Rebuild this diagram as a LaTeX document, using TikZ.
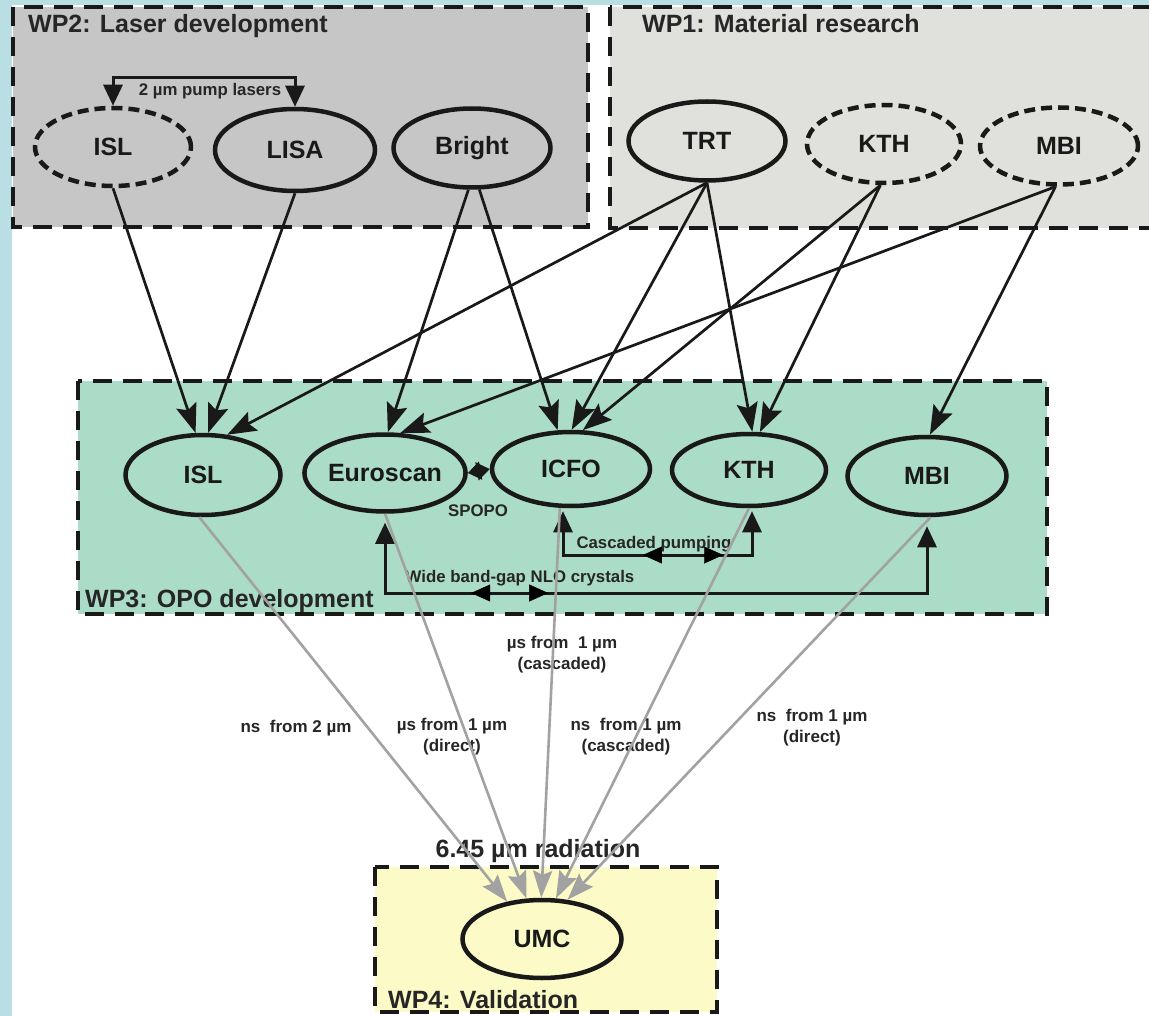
\documentclass[tikz,border=0pt]{standalone}
\usepackage{fontspec}
\setmainfont{Liberation Sans}
\usetikzlibrary{shapes.geometric,arrows.meta,decorations.markings,calc}
\definecolor{bgblue}{HTML}{B9DFE4}
\definecolor{wpA}{HTML}{C6C6C6}
\definecolor{wpB}{HTML}{E0E0DC}
\definecolor{wpC}{HTML}{ABDCC8}
\definecolor{wpD}{HTML}{FCFAC6}
\definecolor{arrgray}{HTML}{A2A2A2}
\begin{document}
\begin{tikzpicture}[x=1pt,y=-1pt,
  box/.style={draw=black!90, line width=3.3pt, dash pattern=on 19pt off 11pt},
  org/.style={ellipse, draw=black!90, line width=4.5pt, inner sep=0pt, font=\fontsize{25}{30}\selectfont\bfseries, text=black!90},
  dorg/.style={org, dash pattern=on 11pt off 6pt},
  ttl/.style={font=\fontsize{25}{30}\selectfont\bfseries, text=black!85, inner sep=0pt, anchor=base west},
  lbl/.style={font=\fontsize{16.8}{20}\selectfont\bfseries, text=black!85, inner sep=0pt},
  glbl/.style={font=\fontsize{17}{21}\selectfont\bfseries, text=black!85, inner sep=0pt, align=center},
  feed/.style={draw=black!90, line width=2.7pt, -{Stealth[length=29pt,width=21pt,inset=5pt]}},
  gout/.style={draw=arrgray, line width=2.6pt, -{Stealth[length=27pt,width=19pt,inset=4pt]}},
  brk/.style={draw=black!90, line width=3pt},
  brktips/.style={{Triangle[length=21pt,width=19pt]}-{Triangle[length=21pt,width=19pt]}},
]
\useasboundingbox (0,0) rectangle (1149,1016);
\clip (0,0) rectangle (1149,1016);
% background
\fill[bgblue] (0,0) rectangle (1149,1016);
\fill[white] (12,5) rectangle (1149,1016);
% work package boxes
\path[box, fill=wpA] (13,7) rectangle (588,227);
\path[box, fill=wpB] (610,7) rectangle (1170,228);
\path[box, fill=wpC] (78,381) rectangle (1047,614);
\path[box, fill=wpD] (375,867) rectangle (717,1012);
% titles
\node[ttl] (t2) at (28,33) {WP2: Laser development};
\node[ttl] (t1) at (642,33) {WP1: Material research};
\node[ttl] (t3) at (85,607) {WP3: OPO development};
\node[ttl] (t4) at (388,1008) {WP4: Validation};
\node[ttl, anchor=base] (rad) at (538,857) {6.45 µm radiation};
% WP2 nodes
\node[dorg, minimum width=156pt, minimum height=78pt] (isl2) at (113,147) {ISL};
\node[org, minimum width=160pt, minimum height=82pt] (lisa) at (295,150) {LISA};
\node[org, minimum width=157pt, minimum height=79pt] (bright) at (472,148) {Bright};
% WP1 nodes
\node[org, minimum width=157pt, minimum height=79pt] (trt) at (707,141) {TRT};
\node[dorg, minimum width=154pt, minimum height=78pt] (kth1) at (884,144) {KTH};
\node[dorg, minimum width=158pt, minimum height=77pt] (mbi1) at (1059,146) {MBI};
% WP3 nodes
\node[org, minimum width=155pt, minimum height=80pt] (isl3) at (203,475) {ISL};
\node[org, minimum width=151pt, minimum height=77pt] (euro) at (385,473) {Euroscan};
\node[org, minimum width=158pt, minimum height=74pt] (icfo) at (571,469) {ICFO};
\node[org, minimum width=154pt, minimum height=72pt] (kth3) at (749,470) {KTH};
\node[org, minimum width=159pt, minimum height=78pt] (mbi3) at (927,476) {MBI};
% WP4 node
\node[org, minimum width=159pt, minimum height=78pt] (umc) at (542,939) {UMC};
% pump lasers bracket
\coordinate (pumprow) at (0,78);
\draw[brk, brktips] (isl2.north) -- (isl2.north |- pumprow) -- (lisa.north |- pumprow) -- (lisa.north);
\node[lbl] (pumplbl) at (210,91) {2 µm pump lasers};
% feeds from WP1/WP2 to WP3
\draw[feed] (isl2.south) -- (isl3.100);
\draw[feed] (lisa.south) -- (isl3.83);
\draw[feed] (trt.south) -- (isl3.59);
\draw[feed] (bright.265) -- (euro.86);
\draw[feed] (mbi1.265) -- (euro.69);
\draw[feed] (bright.280) -- (icfo.109);
\draw[feed] (trt.south) -- (icfo.89);
\draw[feed] (kth1.265) -- (icfo.73);
\draw[feed] (trt.south) -- (kth3.85);
\draw[feed] (kth1.265) -- (kth3.74);
\draw[feed] (mbi1.265) -- (mbi3.86);
% SPOPO
\draw[draw=black!90, line width=2.5pt, {Triangle[length=13pt,width=18pt]}-{Triangle[length=13pt,width=18pt]}] (euro.east) -- (icfo.west);
\node[lbl] (spopo) at (478,511) {SPOPO};
% cascaded pumping bracket
\coordinate (cpL) at (563,555);
\coordinate (cpR) at (752,555);
\draw[brk, brktips, shorten <=3pt, shorten >=3pt] (cpL |- icfo.south) -- (cpL) -- (cpR) -- (cpR |- kth3.south);
\path[decoration={markings,
    mark=at position 0.423 with {\arrowreversed{Triangle[length=19pt,width=17pt]}},
    mark=at position 0.847 with {\arrow{Triangle[length=19pt,width=17pt]}}},
    postaction={decorate}] (cpL) -- (cpR);
\node[lbl, anchor=base] (caslbl) at (654,548) {Cascaded pumping};
% wide band-gap bracket
\coordinate (wbrow) at (0,593);
\draw[brk, brktips, shorten <=9pt, shorten >=9pt] (euro.south) -- (euro.south |- wbrow) -- (mbi3.south |- wbrow) -- (mbi3.south);
\path[decoration={markings,
    mark=at position 0.159 with {\arrowreversed{Triangle[length=19pt,width=17pt]}},
    mark=at position 0.301 with {\arrow{Triangle[length=19pt,width=17pt]}}},
    postaction={decorate}] (euro.south |- wbrow) -- (mbi3.south |- wbrow);
\node[lbl, anchor=base] (wblbl) at (520,582) {Wide band-gap NLO crystals};
% output labels
\node[glbl] (la) at (296,728) {ns\ \ from 2 µm};
\node[glbl] (lb) at (452,737) {µs from\ \ 1 µm\\(direct)};
\node[glbl] (lc) at (562,655) {µs from\ \ 1 µm\\(cascaded)};
\node[glbl] (ld) at (626,737) {ns\ \ from 1 µm\\(cascaded)};
\node[glbl] (le) at (812,728) {ns\ \ from 1 µm\\(direct)};
% outputs to UMC
\draw[gout] (isl3.265) -- (umc.133);
\draw[gout] (euro.south) -- (umc.111);
\draw[gout] (icfo.254) -- (umc.91);
\draw[gout] (kth3.south) -- (umc.71);
\draw[gout] (mbi3.275) -- (umc.57);
\end{tikzpicture}
\end{document}
